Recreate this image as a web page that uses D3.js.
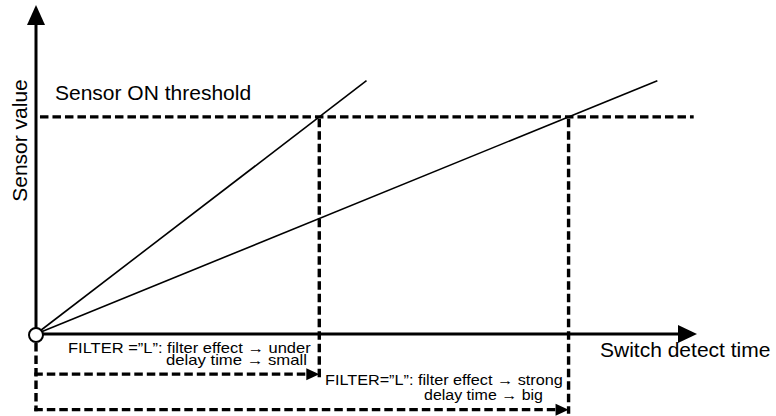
<!DOCTYPE html>
<html>
<head>
<meta charset="utf-8">
<script src="https://cdn.jsdelivr.net/npm/d3@7"></script>
<style>
  html, body { margin: 0; padding: 0; background: #fff; }
  svg { display: block; }
  text { font-family: "Liberation Sans", Arial, sans-serif; fill: #000; }
</style>
</head>
<body>
<svg id="chart" width="776" height="416"></svg>
<script>
// ---- data ----
const xDomain = [0, 10];
const yDomain = [0, 10];
const thresholdValue = 6.6;
const thresholdSpan = [0.06, 9.95];
const fastLine = [[0, 0], [5.0, 7.7]];   // FILTER weak
const slowLine = [[0, 0], [9.4, 7.7]];   // FILTER strong
const delayLevels = [-1.22, -2.3];
const axisLabels = ["Sensor value", "Switch detect time"];
const thresholdLabel = "Sensor ON threshold";
const noteFast = ["FILTER =\u201DL\u201D:  filter effect \u2192  under", "delay time \u2192  small"];
const noteSlow = ["FILTER=\u201DL\u201D:  filter effect \u2192  strong", "delay time \u2192   big"];

// ---- scales ----
const svg = d3.select("#chart");
const x = d3.scaleLinear().domain(xDomain).range([36, 697]);
const y = d3.scaleLinear().domain(yDomain).range([334, 5]);
const line = d3.line().x(d => x(d[0])).y(d => y(d[1]));

const crossFast = thresholdValue * fastLine[1][0] / fastLine[1][1];
const crossSlow = thresholdValue * slowLine[1][0] / slowLine[1][1];

const dash = "8.5,4";
const dashW = 3.4;

// axes
const x0 = x(0), y0 = y(0);
svg.append("line").attr("x1", x0).attr("y1", y0).attr("x2", x0).attr("y2", y(yDomain[1]) + 15)
  .attr("stroke", "#000").attr("stroke-width", 3);
svg.append("path")
  .attr("d", `M${x0},${y(yDomain[1])} L${x0 - 9},${y(yDomain[1]) + 20} L${x0 + 9},${y(yDomain[1]) + 20} Z`)
  .attr("fill", "#000");
svg.append("line").attr("x1", x0).attr("y1", y0).attr("x2", x(xDomain[1]) - 15).attr("y2", y0)
  .attr("stroke", "#000").attr("stroke-width", 3);
svg.append("path")
  .attr("d", `M${x(xDomain[1])},${y0} L${x(xDomain[1]) - 19},${y0 - 9} L${x(xDomain[1]) - 19},${y0 + 9} Z`)
  .attr("fill", "#000");

// threshold
svg.append("line")
  .attr("x1", x(thresholdSpan[0])).attr("x2", x(thresholdSpan[1]))
  .attr("y1", y(thresholdValue)).attr("y2", y(thresholdValue))
  .attr("stroke", "#000").attr("stroke-width", dashW).attr("stroke-dasharray", dash);

// series lines
[fastLine, slowLine].forEach(d => {
  svg.append("path").attr("d", line(d)).attr("fill", "none")
    .attr("stroke", "#000").attr("stroke-width", 1.6);
});

// vertical drops
[[crossFast, delayLevels[0]], [crossSlow, delayLevels[1]]].forEach(([cx, lv]) => {
  svg.append("line").attr("x1", x(cx)).attr("x2", x(cx))
    .attr("y1", y(thresholdValue) + 2).attr("y2", y(lv) + 4)
    .attr("stroke", "#000").attr("stroke-width", dashW).attr("stroke-dasharray", dash);
});

// left vertical dashed from origin
svg.append("line").attr("x1", x0).attr("x2", x0)
  .attr("y1", y0 + 9).attr("y2", y(delayLevels[1]) + 1.7)
  .attr("stroke", "#000").attr("stroke-width", dashW).attr("stroke-dasharray", dash);

// delay arrows
[[crossFast, delayLevels[0]], [crossSlow, delayLevels[1]]].forEach(([cx, lv]) => {
  const px = x(cx), py = y(lv);
  svg.append("line").attr("x1", x0 - 1.7).attr("x2", px - 10)
    .attr("y1", py).attr("y2", py)
    .attr("stroke", "#000").attr("stroke-width", dashW).attr("stroke-dasharray", dash);
  svg.append("path")
    .attr("d", `M${px},${py} L${px - 13},${py - 6} L${px - 13},${py + 6} Z`)
    .attr("fill", "#000");
});

// origin circle
svg.append("circle").attr("cx", x0).attr("cy", y0 + 1).attr("r", 7)
  .attr("fill", "#fff").attr("stroke", "#000").attr("stroke-width", 2);

// texts
svg.append("text").attr("transform", "translate(27,140.5) rotate(-90)")
  .attr("text-anchor", "middle").attr("font-size", 21).text(axisLabels[0]);
svg.append("text").attr("x", 600).attr("y", 357).attr("font-size", 21).text(axisLabels[1]);
svg.append("text").attr("x", 55).attr("y", 100).attr("font-size", 21).text(thresholdLabel);

// notes: stretched horizontally to the width of the original lettering
function note(str, xStart, baseline, width) {
  const t = svg.append("text").attr("x", 0).attr("y", 0)
    .attr("font-size", 14.5).text(str);
  const w = t.node().getComputedTextLength();
  t.attr("transform", `translate(${xStart},${baseline}) scale(${width / w},1)`);
}
note(noteFast[0], 68, 353, 243);
note(noteFast[1], 166, 365, 141);
note(noteSlow[0], 325, 385, 238);
note(noteSlow[1], 424, 400, 119);
</script>
</body>
</html>
